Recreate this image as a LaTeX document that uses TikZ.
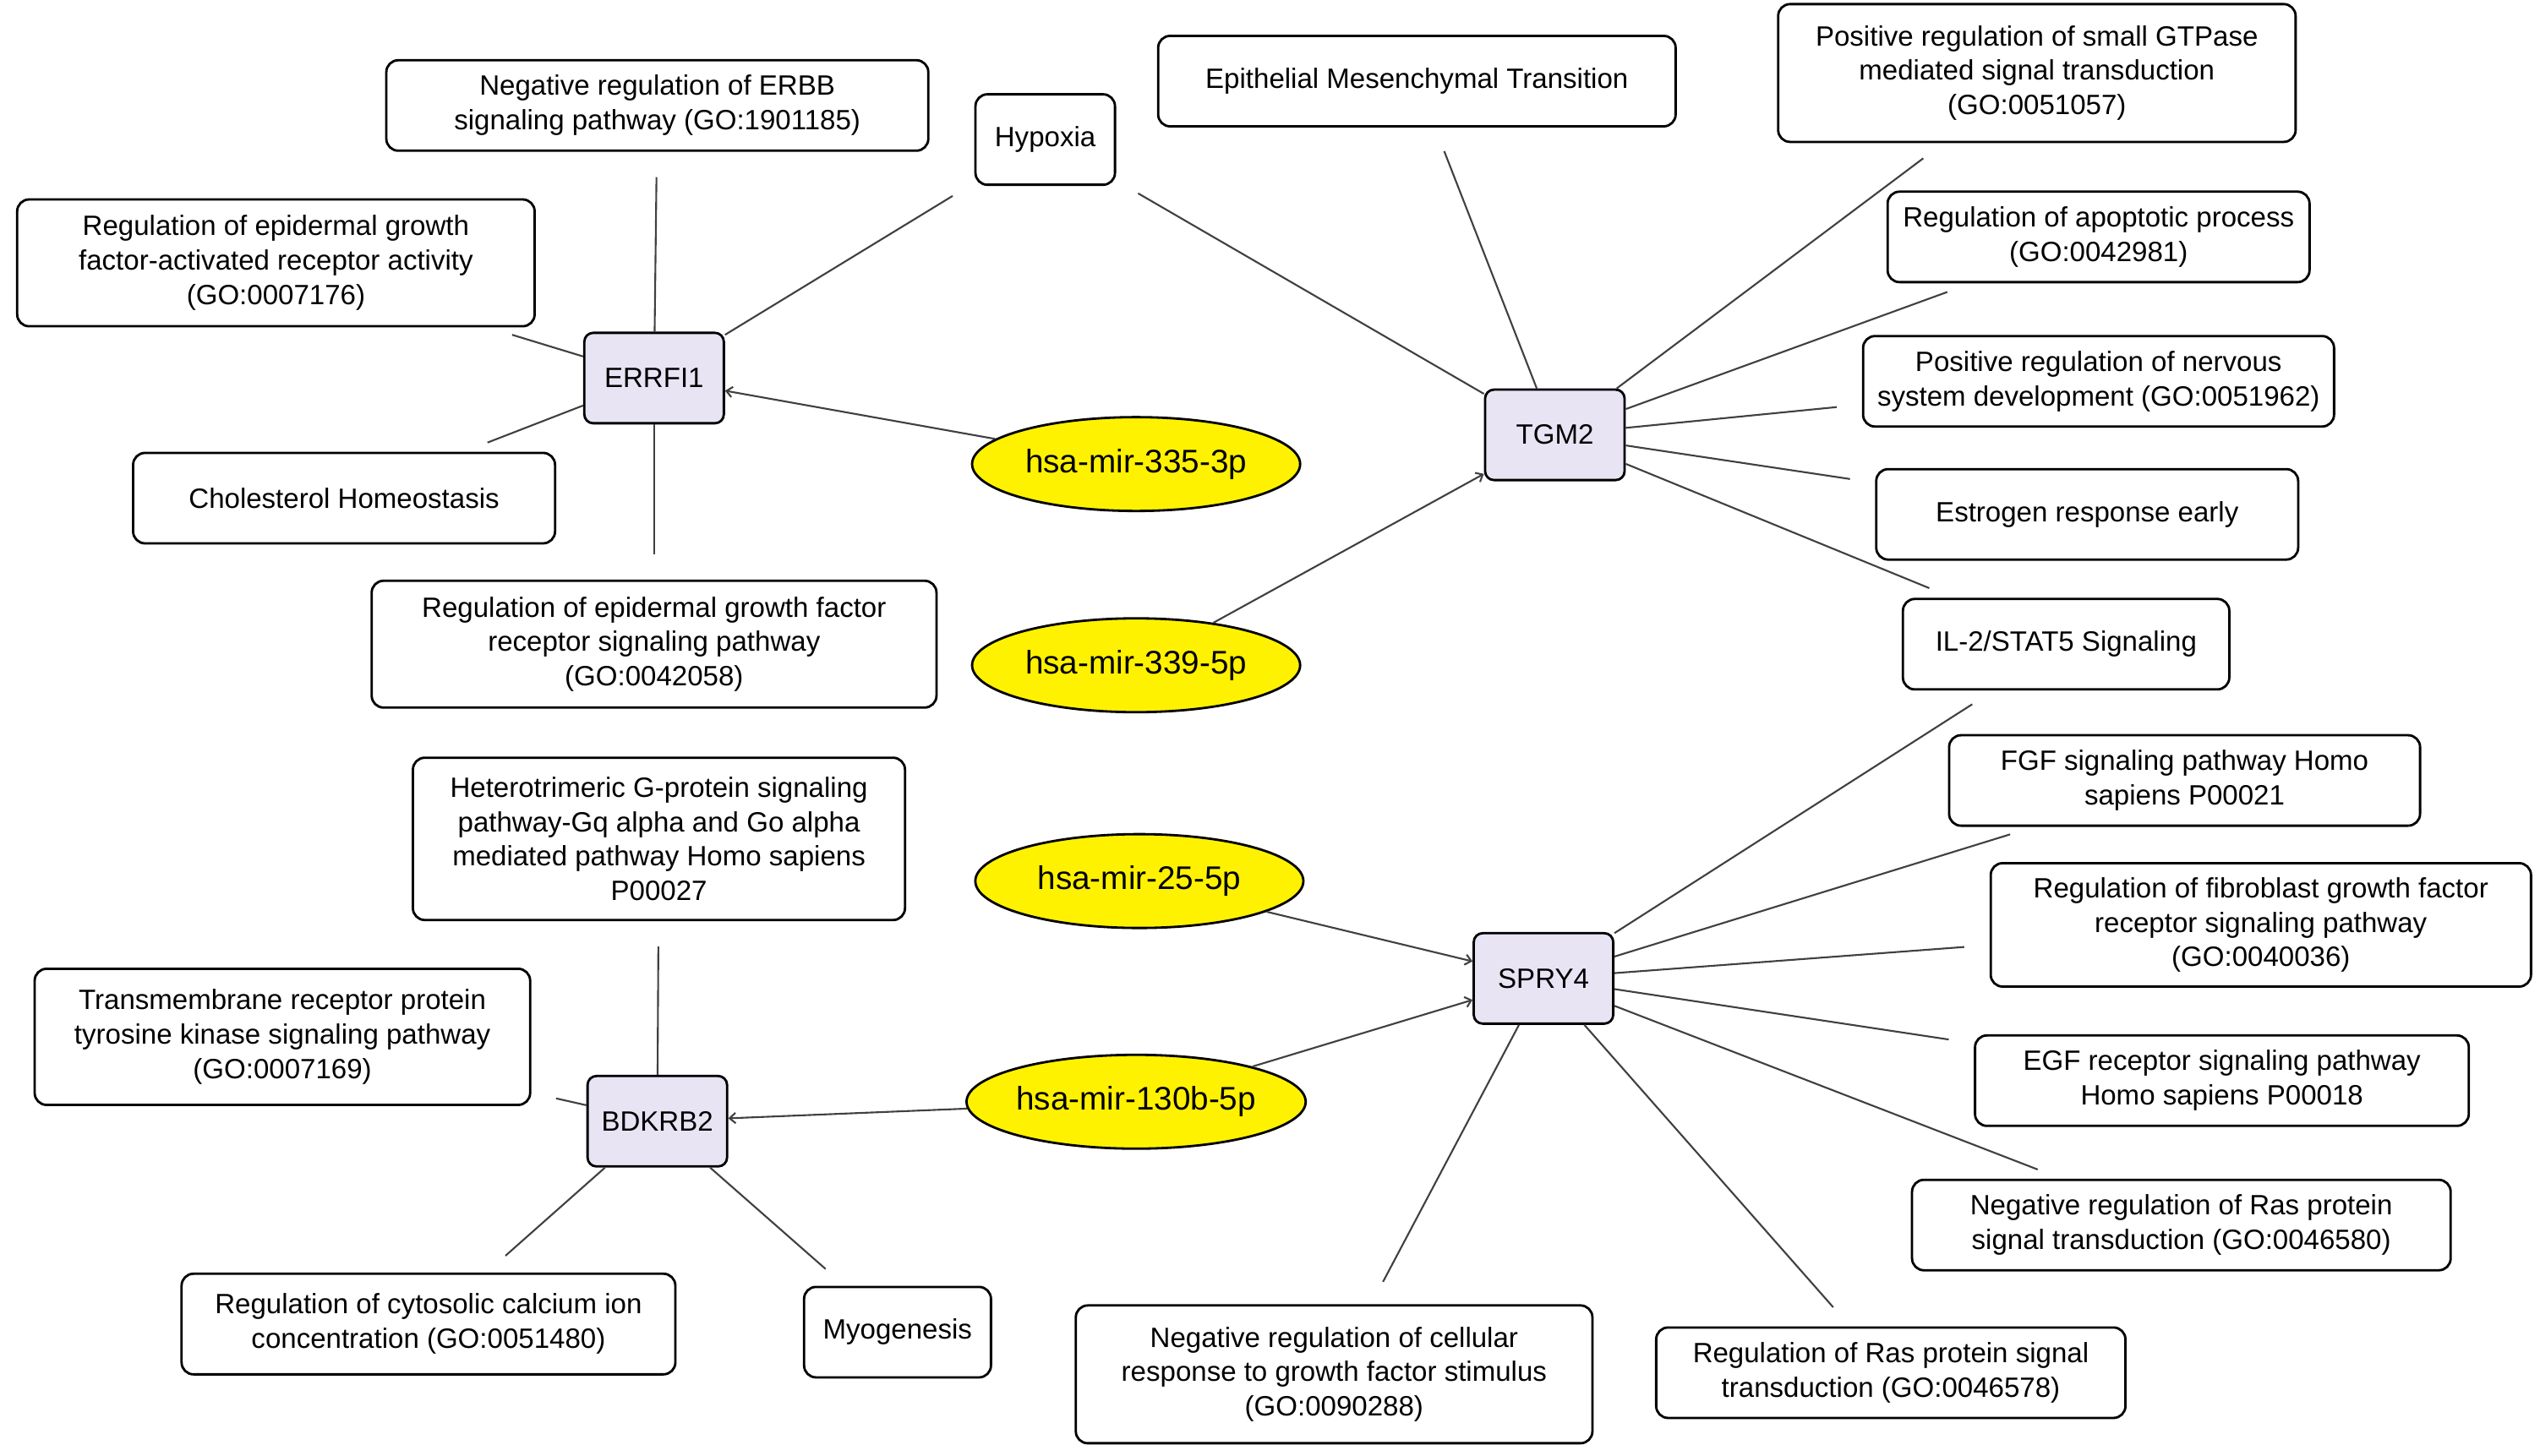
\documentclass[tikz,border=0pt]{standalone}
\usepackage{fontspec}
\setmainfont{Liberation Sans}
\usetikzlibrary{arrows.meta,shapes.geometric}
\definecolor{genefill}{RGB}{232,228,244}
\tikzset{
  term/.style={draw, rounded corners=4pt, line width=0.8pt, align=center, inner sep=0pt,
    font=\fontsize{9.4}{11.6}\selectfont, minimum height=#1},
  term/.default=1.07cm,
  gene/.style={draw, rounded corners=3pt, line width=0.8pt, fill=genefill, minimum width=1.65cm,
    minimum height=1.07cm, font=\fontsize{9.4}{11.6}\selectfont},
  mir/.style={ellipse, draw, line width=0.8pt, fill=yellow, minimum width=3.88cm, minimum height=1.11cm,
    inner sep=0pt, font=\fontsize{11}{13}\selectfont},
  link/.style={draw=black!75, line width=0.6pt, shorten >=0.3cm},
  hit/.style={draw=black!75, line width=0.6pt, -{Straight Barb[length=2pt,width=3.5pt]}}
}
\begin{document}
\begin{tikzpicture}[x=0.0192cm,y=-0.0192cm]
    \useasboundingbox (0,0) rectangle (1565,897);
    % Genes
    \node[gene] (errfi) at (403,233) {ERRFI1};
    \node[gene] (tgm) at (958,268) {TGM2};
    \node[gene] (spry) at (951,603) {SPRY4};
    \node[gene] (bdk) at (405,691) {BDKRB2};
    % miRNAs
    \node[mir] (m335) at (700,286) {hsa-mir-335-3p};
    \node[mir] (m339) at (700,410) {hsa-mir-339-5p};
    \node[mir] (m25) at (702,543) {hsa-mir-25-5p};
    \node[mir] (m130) at (700,679) {hsa-mir-130b-5p};
    % Terms
    \node[term, minimum width=6.41cm] (erbb) at (405,65) {Negative regulation of ERBB\\signaling pathway (GO:1901185)};
    \node[term, minimum width=1.65cm] (hyp) at (644,86) {Hypoxia};
    \node[term, minimum width=6.12cm] (emt) at (873,50) {Epithelial Mesenchymal Transition};
    \node[term=1.63cm, minimum width=6.12cm] (gtp) at (1255,45) {Positive regulation of small GTPase\\mediated signal transduction\\(GO:0051057)};
    \node[term, minimum width=4.99cm] (apo) at (1293,146) {Regulation of apoptotic process\\(GO:0042981)};
    \node[term, minimum width=5.57cm] (nerv) at (1293,235) {Positive regulation of nervous\\system development (GO:0051962)};
    \node[term, minimum width=4.99cm] (estr) at (1286,317) {Estrogen response early};
    \node[term, minimum width=3.86cm] (il2) at (1273,397) {IL-2/STAT5 Signaling};
    \node[term=1.5cm, minimum width=6.12cm] (egfa) at (170,162) {Regulation of epidermal growth\\factor-activated receptor activity\\(GO:0007176)};
    \node[term, minimum width=4.99cm] (chol) at (212,307) {Cholesterol Homeostasis};
    \node[term=1.5cm, minimum width=6.68cm] (egfp) at (403,397) {Regulation of epidermal growth factor\\receptor signaling pathway\\(GO:0042058)};
    \node[term=1.92cm, minimum width=5.82cm] (gq) at (406,517) {Heterotrimeric G-protein signaling\\pathway-Gq alpha and Go alpha\\mediated pathway Homo sapiens\\P00027};
    \node[term, minimum width=5.57cm] (fgf) at (1346,481) {FGF signaling pathway Homo\\sapiens P00021};
    \node[term=1.46cm, minimum width=6.39cm] (fgfr) at (1393,570) {Regulation of fibroblast growth factor\\receptor signaling pathway\\(GO:0040036)};
    \node[term=1.61cm, minimum width=5.86cm] (rtk) at (174,639) {Transmembrane receptor protein\\tyrosine kinase signaling pathway\\(GO:0007169)};
    \node[term, minimum width=5.84cm] (egfr) at (1369,666) {EGF receptor signaling pathway\\Homo sapiens P00018};
    \node[term, minimum width=6.37cm] (nras) at (1344,755) {Negative regulation of Ras protein\\signal transduction (GO:0046580)};
    \node[term=1.19cm, minimum width=5.84cm] (calc) at (264,816) {Regulation of cytosolic calcium ion\\concentration (GO:0051480)};
    \node[term, minimum width=2.21cm] (myo) at (553,821) {Myogenesis};
    \node[term=1.63cm, minimum width=6.11cm] (ncell) at (822,847) {Negative regulation of cellular\\response to growth factor stimulus\\(GO:0090288)};
    \node[term, minimum width=5.55cm] (rras) at (1165,846) {Regulation of Ras protein signal\\transduction (GO:0046578)};
    % Gene--term links
    \foreach \t in {erbb,hyp,egfa,chol,egfp} \path[link] (errfi) -- (\t);
    \foreach \t in {hyp,emt,gtp,apo,nerv,estr,il2} \path[link] (tgm) -- (\t);
    \foreach \t in {il2,fgf,fgfr,egfr,nras,rras,ncell} \path[link] (spry) -- (\t);
    \foreach \t in {gq,rtk,calc,myo} \path[link] (bdk) -- (\t);
    % miRNA targets
    \draw[hit] (m335) -- (errfi);
    \draw[hit] (m339) -- (tgm);
    \draw[hit] (m25) -- (spry);
    \draw[hit] (m130) -- (spry);
    \draw[hit] (m130) -- (bdk);
\end{tikzpicture}
\end{document}
